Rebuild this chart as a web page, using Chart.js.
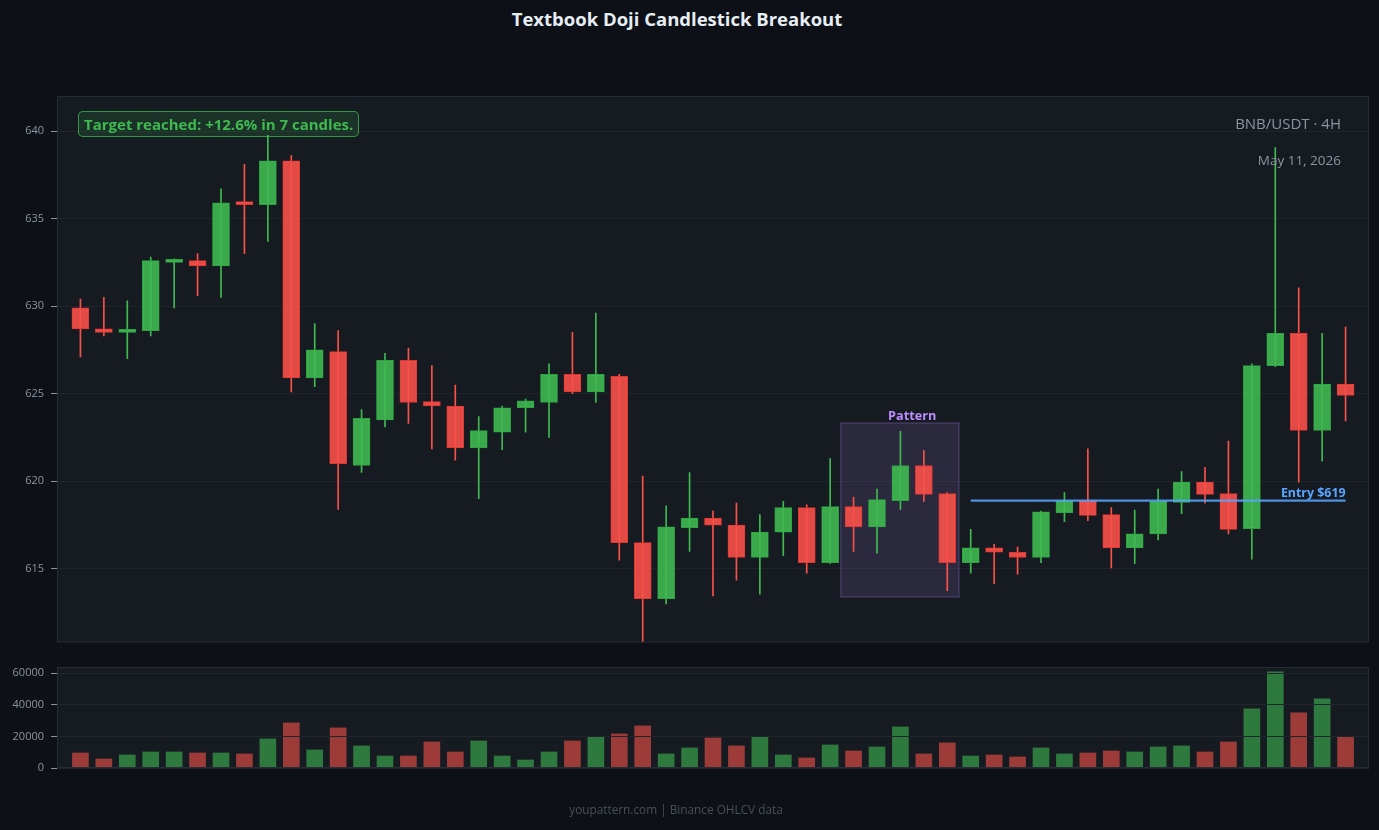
<!DOCTYPE html>
<html>
<head>
<meta charset="utf-8">
<title>Textbook Doji Candlestick Breakout</title>
<script src="https://cdn.jsdelivr.net/npm/chart.js@4.4.1/dist/chart.umd.min.js"></script>
<style>
  html, body { margin:0; padding:0; background:#0d1117; width:1379px; height:830px; overflow:hidden; font-family:"Open Sans", "Noto Sans", sans-serif; }
  #title { position:absolute; left:0; width:1354px; top:6px; text-align:center; color:#e6edf3; font-weight:700; font-size:18.5px; line-height:26px; }
  #footer { position:absolute; left:0; width:1352px; top:801px; text-align:center; color:#484f58; font-size:11.8px; line-height:17px; }
  #target { position:absolute; left:78px; top:111px; height:24px; line-height:24px; padding:0 5px; border:1px solid rgba(63,185,80,0.75); border-radius:5px; background:rgba(63,185,80,0.15); color:#3fb950; font-weight:700; font-size:15px; white-space:nowrap; }
  #pair { position:absolute; right:38px; top:113px; color:#8b949e; font-size:15px; line-height:21px; }
  #date { position:absolute; right:38px; top:151px; color:#8b949e; font-size:13.5px; line-height:19px; }
  canvas { position:absolute; left:0; }
  #priceCanvas { top:0; }
  #volCanvas { top:650px; }
</style>
</head>
<body>
<div id="title">Textbook Doji Candlestick Breakout</div>
<canvas id="volCanvas" width="1379" height="180"></canvas>
<canvas id="priceCanvas" width="1379" height="656"></canvas>
<div id="target">Target reached: +12.6% in 7 candles.</div>
<div id="pair">BNB/USDT · 4H</div>
<div id="date">May 11, 2026</div>
<div id="footer">youpattern.com | Binance OHLCV data</div>
<script>
// ---- Data (BNB/USDT 4H candles) ----
const openPrices = [629.9,628.7,628.5,628.6,632.5,632.6,632.3,635.95,635.8,638.3,625.9,627.4,620.9,623.5,626.9,624.55,624.3,621.9,622.8,624.2,624.5,626.1,625.1,626.0,616.5,613.3,617.35,617.9,617.5,615.65,617.1,618.5,615.35,618.55,617.4,618.9,620.9,619.3,615.35,616.2,615.95,615.65,618.2,618.9,618.1,616.2,617.0,618.8,619.95,619.3,617.3,626.6,628.45,622.9,625.55];
const closePrices = [628.7,628.5,628.6,632.6,632.6,632.3,635.9,635.8,638.3,625.9,627.5,621.0,623.6,626.9,624.5,624.3,621.9,622.9,624.2,624.6,626.1,625.1,626.1,616.5,613.3,617.4,617.9,617.5,615.65,617.1,618.5,615.35,618.55,617.4,618.95,620.9,619.25,615.35,616.2,615.95,615.65,618.25,618.9,618.05,616.2,617.0,618.85,619.95,619.25,617.25,626.6,628.45,622.9,625.55,624.9];
const highPrices = [630.4,630.5,630.3,632.8,632.7,633.0,636.7,638.1,639.75,638.6,629.0,628.6,624.1,627.3,627.6,626.6,625.5,623.7,624.3,624.7,626.7,628.5,629.6,626.1,620.3,618.6,620.5,618.3,618.75,618.1,618.85,618.65,621.3,619.1,619.55,622.85,621.75,619.35,617.25,616.4,616.25,618.3,619.35,621.85,618.5,618.35,619.55,620.55,620.8,622.3,626.7,639.05,631.05,628.45,628.8];
const lowPrices = [627.1,628.3,627.0,628.3,629.9,630.6,630.5,633.0,633.7,625.1,625.4,618.4,620.5,623.1,623.3,621.85,621.2,619.0,621.8,622.8,622.5,625.0,624.5,615.5,610.8,613.0,616.0,613.45,614.35,613.55,615.75,614.75,615.3,616.0,615.9,618.4,618.85,613.75,614.75,614.15,614.7,615.35,617.7,617.75,615.05,615.3,616.65,618.15,618.75,617.0,615.55,626.55,619.95,621.15,623.45];
const volumes = [9500,5700,8240,10140,10140,9500,9500,8870,18380,28520,11410,25350,13940,7600,7600,16480,10140,17110,7600,5070,10140,17110,19650,21550,26620,8870,12680,19010,13940,19650,8240,6340,14580,10770,13310,25990,8870,15850,7600,8240,6970,12680,8870,9500,10770,10140,13310,13940,10140,16480,37390,60840,34860,43730,19650];
const priceTicks = [615, 620, 625, 630, 635, 640];
const volumeTicks = [0, 20000, 40000, 60000];
// Annotations (data-space)
const patternStart = 33, patternEnd = 37;   // candle indices in the pattern
const entryPrice = 618.9, entryStart = 38, entryEnd = 54;
const entryLabel = 'Entry $619';
const patternLabel = 'Pattern';

// ---- Styling ----
Chart.defaults.font.family = '"Open Sans", "Noto Sans", sans-serif';
const GREEN = '#3fb950', RED = '#f85149';
const idx = openPrices.map((_, i) => i);
const isUp = idx.map(i => closePrices[i] >= openPrices[i]);

const plotBg = {
  id: 'plotBg',
  beforeDraw(chart) {
    const { ctx, chartArea: a } = chart;
    ctx.save();
    ctx.fillStyle = '#161b22';
    ctx.fillRect(a.left, a.top, a.width, a.height);
    ctx.restore();
  },
  afterDraw(chart) {
    const { ctx, chartArea: a } = chart;
    ctx.save();
    ctx.strokeStyle = '#262c36';
    ctx.lineWidth = 1;
    ctx.strokeRect(a.left + 0.5, a.top + 0.5, a.width - 1, a.height - 1);
    ctx.restore();
  }
};

const annotations = {
  id: 'annotations',
  beforeDatasetsDraw(chart) {
    const { ctx, scales: { x, y } } = chart;
    let hi = -Infinity, lo = Infinity;
    for (let i = patternStart; i <= patternEnd; i++) { hi = Math.max(hi, highPrices[i]); lo = Math.min(lo, lowPrices[i]); }
    const x0 = x.getPixelForValue(patternStart - 0.55), x1 = x.getPixelForValue(patternEnd + 0.5);
    const y0 = y.getPixelForValue(hi + 0.48), y1 = y.getPixelForValue(lo - 0.36);
    ctx.save();
    ctx.fillStyle = 'rgba(188,140,255,0.13)';
    ctx.fillRect(x0, y0, x1 - x0, y1 - y0);
    ctx.strokeStyle = 'rgba(188,140,255,0.22)';
    ctx.lineWidth = 1.5;
    ctx.strokeRect(x0, y0, x1 - x0, y1 - y0);
    ctx.fillStyle = '#bc8cff';
    ctx.font = 'bold 12.7px "Open Sans", sans-serif';
    ctx.textAlign = 'center';
    ctx.textBaseline = 'bottom';
    ctx.fillText(patternLabel, x.getPixelForValue((patternStart + patternEnd) / 2 + 0.5), y0 - 0.5);
    ctx.restore();
  },
  afterDatasetsDraw(chart) {
    const { ctx, scales: { x, y } } = chart;
    const ey = y.getPixelForValue(entryPrice);
    const ex0 = x.getPixelForValue(entryStart), ex1 = x.getPixelForValue(entryEnd);
    ctx.save();
    ctx.strokeStyle = 'rgba(88,166,255,0.85)';
    ctx.lineWidth = 2.2;
    ctx.beginPath();
    ctx.moveTo(ex0, ey);
    ctx.lineTo(ex1, ey);
    ctx.stroke();
    ctx.fillStyle = '#58a6ff';
    ctx.font = 'bold 12.4px "Open Sans", sans-serif';
    ctx.textAlign = 'right';
    ctx.textBaseline = 'bottom';
    ctx.fillText(entryLabel, ex1, ey - 1);
    ctx.restore();
  }
};

const tickFont = { size: 11 };

const priceChart = new Chart(document.getElementById('priceCanvas'), {
  type: 'bar',
  data: {
    datasets: [
      {
        label: 'Body',
        order: 1,
        data: idx.map(i => ({ x: i, y: [openPrices[i], closePrices[i]] })),
        backgroundColor: idx.map(i => isUp[i] ? 'rgba(63,185,80,0.9)' : 'rgba(248,81,73,0.9)'),
        borderColor: idx.map(i => isUp[i] ? '#2ea043' : '#da3633'),
        borderWidth: 1,
        borderSkipped: false,
        barThickness: 17,
        minBarLength: 3,
        grouped: false
      },
      {
        label: 'Wick',
        order: 2,
        data: idx.map(i => ({ x: i, y: [lowPrices[i], highPrices[i]] })),
        backgroundColor: idx.map(i => isUp[i] ? GREEN : RED),
        borderWidth: 0,
        barThickness: 1,
        grouped: false
      }
    ]
  },
  options: {
    responsive: false,
    devicePixelRatio: 1,
    animation: false,
    layout: { padding: { left: 0, right: 10, top: 96, bottom: 8 } },
    plugins: { legend: { display: false }, tooltip: { enabled: false }, title: { display: false } },
    scales: {
      x: { type: 'linear', min: -1, max: 55, offset: false, display: false },
      y: {
        min: 610.8, max: 642,
        afterFit(s) { s.width = 57; },
        afterBuildTicks(s) { s.ticks = priceTicks.map(v => ({ value: v })); },
        ticks: { color: '#8b949e', font: tickFont, padding: 7 },
        grid: { color: '#1f242c', tickColor: '#8b949e', tickLength: 6, drawTicks: true },
        border: { display: false }
      }
    }
  },
  plugins: [plotBg, annotations]
});

const volMax = Math.max(...volumes) * 1.05;
const volChart = new Chart(document.getElementById('volCanvas'), {
  type: 'bar',
  data: {
    datasets: [{
      label: 'Volume',
      data: idx.map(i => ({ x: i, y: volumes[i] })),
      backgroundColor: idx.map(i => isUp[i] ? 'rgba(63,185,80,0.6)' : 'rgba(248,81,73,0.6)'),
      borderWidth: 0,
      barThickness: 16
    }]
  },
  options: {
    responsive: false,
    devicePixelRatio: 1,
    animation: false,
    layout: { padding: { left: 0, right: 10, top: 17, bottom: 62 } },
    plugins: { legend: { display: false }, tooltip: { enabled: false } },
    scales: {
      x: { type: 'linear', min: -1, max: 55, offset: false, display: false },
      y: {
        min: 0, max: volMax,
        afterFit(s) { s.width = 57; },
        afterBuildTicks(s) { s.ticks = volumeTicks.map(v => ({ value: v })); },
        ticks: { color: '#8b949e', font: tickFont, padding: 7, callback: v => String(v) },
        grid: { color: '#21262d', tickColor: '#8b949e', tickLength: 6, z: 1 },
        border: { display: false }
      }
    }
  },
  plugins: [plotBg]
});
</script>
</body>
</html>
